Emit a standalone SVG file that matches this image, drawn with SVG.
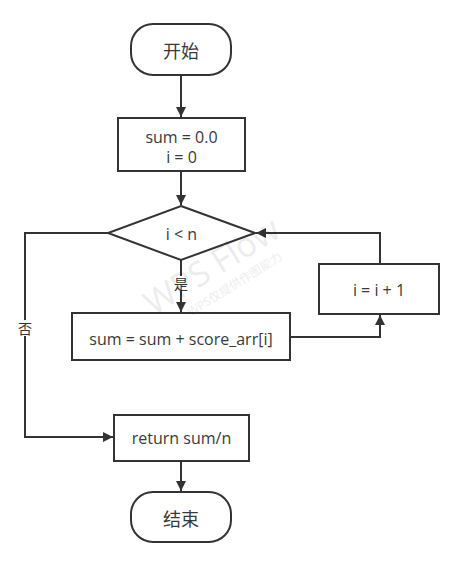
<svg xmlns="http://www.w3.org/2000/svg" width="464" height="567" viewBox="0 0 464 567">
<defs>
<marker id="arr" viewBox="0 0 10 10" refX="10" refY="5" markerWidth="10" markerHeight="10" markerUnits="userSpaceOnUse" orient="auto">
<path d="M0,0 L10,5 L0,10 Z" fill="#333"/>
</marker>
<style>
.shape{fill:#fff;stroke:#333;stroke-width:2}
.t{font-family:"Open Sans","Liberation Sans","Noto Sans CJK SC",sans-serif;fill:#3a3a3a;font-size:16px;text-anchor:middle;dominant-baseline:central}
.cn{font-family:"Noto Sans CJK SC",sans-serif;fill:#3a3a3a;font-size:18px;text-anchor:middle;dominant-baseline:central}
.lbl{font-family:"Noto Sans CJK SC",sans-serif;fill:#333;font-size:14px;text-anchor:middle;dominant-baseline:central}
.edge{fill:none;stroke:#333;stroke-width:2;marker-end:url(#arr)}
.wm{font-family:"Open Sans","Noto Sans CJK SC",sans-serif;fill:#000;opacity:0.07;text-anchor:middle}
</style>
</defs>
<rect width="464" height="567" fill="#fff"/>
<g id="connectors">
<path class="edge" d="M181,75 V117"/>
<path class="edge" d="M181,171 V205"/>
<path class="edge" d="M181,260 V312"/>
<rect x="174" y="276" width="14" height="14" fill="#fff"/>
<text class="lbl" x="181" y="283">是</text>
<path class="edge" d="M108,233 H25 V437 H113"/>
<rect x="17" y="320" width="16" height="16" fill="#fff"/>
<text class="lbl" x="25" y="328">否</text>
<path class="edge" d="M290,337 H380 V315"/>
<path class="edge" d="M380,264 V233 H256"/>
<path class="edge" d="M181,461 V491"/>
</g>
<g id="start">
<rect class="shape" x="131" y="24" width="100" height="51" rx="22" ry="22"/>
<text class="cn" x="181" y="50">开始</text>
</g>
<g id="init">
<rect class="shape" x="118" y="118" width="127" height="53"/>
<text class="t" x="181.5" y="137">sum = 0.0</text>
<text class="t" x="181.5" y="157">i = 0</text>
</g>
<g id="cond">
<polygon class="shape" points="181,206 255,233 181,260 108,233"/>
<text class="t" x="181.5" y="234">i &lt; n</text>
</g>
<g id="accum">
<rect class="shape" x="72" y="313" width="218" height="47"/>
<text class="t" x="181" y="339">sum = sum + score_arr[i]</text>
</g>
<g id="inc">
<rect class="shape" x="319" y="264" width="120" height="50"/>
<text class="t" x="379" y="290">i = i + 1</text>
</g>
<g id="ret">
<rect class="shape" x="114" y="415" width="135" height="46"/>
<text class="t" x="181.5" y="438">return sum/n</text>
</g>
<g id="end">
<rect class="shape" x="131" y="492" width="100" height="50" rx="22" ry="22"/>
<text class="cn" x="181" y="518">结束</text>
</g>
<g transform="translate(218,276) rotate(-32)">
<text class="wm" x="0" y="0" font-size="34">WPS Flow</text>
<text class="wm" x="10" y="20" font-size="12">WPS仅提供作图能力</text>
</g>
</svg>
